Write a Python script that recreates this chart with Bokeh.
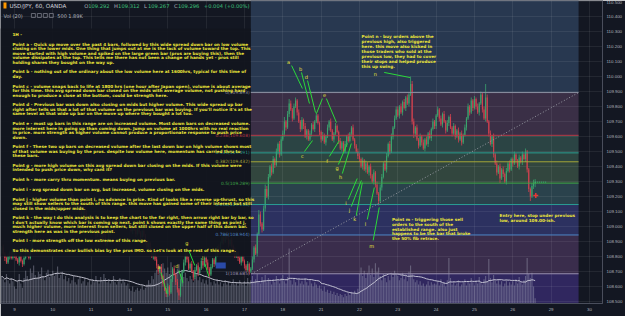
import pandas as pd
from bokeh.plotting import figure
from bokeh.models import Range1d, FixedTicker, NumeralTickFormatter, BoxAnnotation, Label
from bokeh.core.properties import value
from bokeh.embed import file_html
from bokeh.resources import INLINE

# ---------------- data ----------------
first_bar_index = -8
first_open = 108.84
closes = [
    108.86, 108.82, 108.79, 108.76, 108.80, 108.83, 108.79, 108.84,
    108.81, 108.78, 108.76, 108.80, 108.77, 108.75, 108.79, 108.84, 108.82, 108.79, 108.85, 108.90, 108.93, 108.96, 108.99, 109.03, 109.00, 109.04, 109.07, 109.05, 109.09, 109.12, 109.10, 109.14,
    109.16, 109.19, 109.15, 109.12, 109.17, 109.21, 109.24, 109.20, 109.18, 109.22, 109.26, 109.23, 109.19, 109.16, 109.13, 109.17, 109.14, 109.10, 109.08, 109.12, 109.09, 109.06, 109.03, 109.07,
    109.04, 109.00, 108.97, 108.94, 108.98, 108.95, 108.92, 108.96, 108.93, 108.88, 108.91, 108.95, 108.99, 109.02, 108.98, 109.03, 109.06, 109.02, 109.05, 109.08, 109.04, 109.01, 109.05, 109.03,
    109.00, 108.97, 109.01, 108.98, 108.95, 108.99, 108.96, 108.93, 108.97, 108.94, 108.90, 108.86, 108.89, 108.84, 108.80, 108.83, 108.78, 108.74, 108.70, 108.73, 108.67, 108.62, 108.58, 108.55,
    108.60, 108.56, 108.65, 108.72, 108.68, 108.63, 108.58, 108.54, 108.62, 108.70, 108.76, 108.82, 108.78, 108.72, 108.75, 108.70, 108.66, 108.71, 108.74, 108.69, 108.72, 108.77, 108.74, 108.79,
    108.76, 108.72, 108.68, 108.73, 108.78, 108.75, 108.81, 108.86, 108.83, 108.89, 108.93, 108.90, 108.95, 108.92, 108.88, 108.91, 108.87, 108.84, 108.80, 108.83, 108.79, 108.76, 108.80, 108.77,
    108.74, 108.71, 108.75, 108.70, 108.72, 108.78, 108.86, 108.82, 108.95, 109.08, 109.02, 108.98, 109.12, 109.25, 109.20, 109.33, 109.40, 109.36, 109.45, 109.41, 109.50, 109.55, 109.48, 109.58,
    109.62, 109.70, 109.66, 109.75, 109.82, 109.78, 109.72, 109.80, 109.84, 109.76, 109.70, 109.65, 109.71, 109.67, 109.60, 109.64, 109.58, 109.62, 109.68, 109.65, 109.70, 109.74, 109.69, 109.63,
    109.58, 109.61, 109.56, 109.60, 109.66, 109.70, 109.64, 109.58, 109.62, 109.67, 109.63, 109.57, 109.52, 109.56, 109.50, 109.55, 109.60, 109.57, 109.62, 109.66, 109.58, 109.54, 109.50, 109.47,
    109.45, 109.40, 109.44, 109.38, 109.42, 109.36, 109.40, 109.34, 109.30, 109.36, 109.28, 109.22, 109.17, 109.26, 109.33, 109.42, 109.38, 109.47, 109.55, 109.50, 109.60, 109.66, 109.72, 109.78,
    109.74, 109.80, 109.76, 109.83, 109.79, 109.86, 109.82, 109.88, 109.95, 109.70, 109.62, 109.66, 109.58, 109.54, 109.60, 109.56, 109.52, 109.58, 109.55, 109.62, 109.59, 109.65, 109.70, 109.67,
    109.74, 109.78, 109.72, 109.68, 109.75, 109.70, 109.64, 109.69, 109.73, 109.66, 109.62, 109.67, 109.60, 109.64, 109.58, 109.62, 109.56, 109.61, 109.66, 109.72, 109.80, 109.76, 109.84, 109.79,
    109.85, 109.80, 109.76, 109.82, 109.88, 109.78, 109.72, 109.86, 109.70, 109.62, 109.55, 109.60, 109.48, 109.42, 109.36, 109.40, 109.32, 109.38, 109.35, 109.30, 109.37, 109.42, 109.38, 109.45,
    109.42, 109.48, 109.44, 109.40, 109.46, 109.43, 109.48, 109.45, 109.50, 109.38, 109.25, 109.20, 109.27, 109.292, 109.296,
]
upper_wick = [  # hundredths of a yen
    1, 2, 1, 1, 2, 1, 1, 2,
    1, 2, 1, 1, 2, 1, 2, 1, 1, 2, 1, 2, 1, 1, 2, 1, 1, 2, 1, 2, 1, 1, 2, 1,
    2, 1, 1, 2, 1, 2, 1, 1, 2, 1, 2, 1, 1, 2, 1, 1, 2, 1, 2, 1, 1, 2, 1, 1,
    1, 1, 2, 1, 2, 1, 1, 2, 1, 2, 1, 1, 2, 1, 1, 2, 1, 2, 1, 1, 2, 1, 1, 2,
    1, 2, 1, 1, 2, 1, 2, 1, 1, 2, 1, 1, 2, 1, 2, 1, 1, 2, 1, 1, 2, 1, 2, 1,
    2, 1, 3, 1, 2, 1, 2, 1, 3, 1, 2, 2, 1, 2, 1, 2, 1, 2, 1, 2, 1, 2, 1, 2,
    1, 2, 1, 2, 1, 1, 2, 1, 2, 1, 2, 1, 1, 2, 1, 1, 2, 1, 2, 1, 1, 2, 1, 1,
    1, 1, 2, 1, 1, 2, 1, 2, 1, 3, 2, 1, 2, 3, 2, 2, 1, 2, 2, 1, 2, 1, 2, 2,
    2, 3, 1, 2, 3, 2, 1, 2, 2, 1, 2, 1, 2, 1, 2, 1, 1, 2, 1, 2, 1, 2, 1, 1,
    1, 2, 1, 1, 2, 1, 2, 1, 1, 2, 1, 1, 2, 1, 1, 2, 1, 2, 1, 1, 2, 1, 1, 2,
    2, 1, 2, 1, 2, 1, 1, 2, 1, 2, 1, 2, 1, 2, 2, 1, 2, 2, 1, 2, 2, 1, 2, 2,
    2, 1, 2, 1, 2, 1, 2, 1, 5, 2, 2, 1, 2, 1, 2, 1, 2, 1, 2, 1, 2, 1, 2, 1,
    1, 2, 1, 2, 1, 2, 1, 2, 1, 2, 1, 2, 1, 1, 2, 1, 2, 1, 2, 1, 2, 1, 2, 1,
    2, 1, 2, 1, 2, 1, 2, 9, 2, 1, 2, 1, 2, 1, 2, 1, 2, 1, 2, 1, 2, 1, 2, 1,
    1, 2, 1, 1, 2, 1, 2, 1, 2, 1, 1, 1, 2, 2, 2,
]
lower_wick = [
    2, 1, 2, 1, 1, 2, 1, 1,
    2, 1, 1, 2, 1, 2, 1, 1, 2, 1, 1, 2, 1, 2, 1, 1, 2, 1, 1, 2, 1, 2, 1, 1,
    1, 2, 1, 1, 2, 1, 1, 2, 1, 2, 1, 1, 2, 1, 2, 1, 1, 2, 1, 1, 2, 1, 2, 1,
    2, 1, 1, 2, 1, 2, 1, 1, 2, 1, 2, 1, 1, 2, 1, 1, 2, 1, 2, 1, 1, 2, 1, 1,
    1, 1, 2, 1, 2, 1, 1, 2, 1, 1, 2, 1, 2, 1, 1, 2, 1, 2, 2, 1, 2, 2, 1, 2,
    2, 2, 1, 2, 1, 2, 2, 3, 1, 2, 1, 2, 2, 1, 2, 1, 2, 1, 1, 2, 1, 1, 2, 1,
    2, 1, 2, 1, 1, 2, 1, 1, 2, 1, 1, 2, 1, 1, 2, 1, 1, 2, 1, 1, 2, 1, 2, 1,
    2, 1, 1, 2, 1, 1, 2, 1, 2, 1, 2, 2, 1, 2, 1, 2, 1, 2, 1, 2, 1, 2, 2, 1,
    1, 2, 2, 1, 2, 1, 2, 1, 1, 2, 1, 2, 1, 2, 1, 2, 1, 1, 2, 1, 2, 1, 1, 2,
    2, 1, 1, 2, 1, 2, 1, 1, 2, 1, 1, 2, 1, 2, 1, 1, 2, 1, 1, 2, 1, 2, 1, 2,
    2, 1, 2, 1, 2, 1, 2, 2, 1, 2, 2, 1, 3, 1, 2, 1, 1, 2, 1, 2, 1, 2, 1, 1,
    1, 2, 1, 2, 1, 2, 1, 2, 1, 2, 3, 2, 1, 2, 1, 2, 1, 2, 1, 2, 1, 2, 1, 2,
    2, 1, 2, 1, 2, 1, 2, 1, 2, 1, 2, 1, 2, 1, 2, 1, 2, 1, 1, 2, 1, 2, 1, 2,
    1, 2, 1, 2, 1, 2, 1, 2, 1, 2, 1, 2, 2, 1, 2, 1, 3, 1, 2, 1, 2, 1, 2, 1,
    2, 1, 2, 1, 2, 1, 2, 1, 2, 2, 2, 3, 1, 2, 3,
]
volume_k = [
    2.6, 2.3, 2.0, 2.8, 2.2, 1.9, 2.4, 2.1,
    1.6, 1.4, 2.1, 2.8, 1.9, 1.5, 2.4, 3.1, 2.6, 2.2, 3.3, 2.9, 3.6, 2.7, 2.4, 3.0, 2.8, 3.4, 2.6, 2.2, 2.9, 3.2, 2.5, 2.8,
    3.1, 2.6, 2.9, 3.5, 2.4, 2.7, 3.0, 2.3, 2.6, 2.1, 2.4, 1.9, 2.2, 2.6, 2.0, 1.8, 2.3, 2.5, 1.9, 2.1, 2.4, 1.7, 2.0, 2.2,
    1.8, 2.3, 2.0, 2.6, 2.2, 1.9, 2.5, 2.1, 2.8, 2.4, 2.0, 2.3, 1.9, 2.2, 2.6, 2.0, 1.8, 2.1, 2.4, 1.9, 2.2, 2.0, 1.7, 1.9,
    1.4, 1.2, 1.6, 1.1, 1.3, 1.5, 1.2, 1.4, 1.7, 1.3, 1.5, 1.8, 2.2, 1.9, 2.6, 2.3, 2.9, 3.2, 2.7, 3.5, 3.0, 3.8, 3.3, 2.9,
    3.4, 2.8, 3.9, 3.1, 2.6, 2.9, 3.3, 3.7, 2.8, 3.2, 2.5, 2.9, 2.4, 2.1, 2.6, 2.3, 2.0, 2.4, 2.8, 2.2, 2.5, 2.0, 2.3, 1.9,
    2.2, 1.8, 2.4, 2.0, 1.7, 2.1, 1.9, 2.3, 1.8, 2.0, 1.6, 1.9, 2.2, 1.8, 2.1, 1.7, 1.9, 2.3, 1.8, 2.0, 1.7, 2.2, 1.9, 1.8,
    2.1, 1.7, 2.4, 1.9, 2.2, 2.6, 2.0, 2.3, 2.8, 2.1, 1.9, 2.5, 2.2, 2.7, 2.0, 2.4, 2.1, 1.8, 2.3, 2.0, 2.6, 2.2, 1.9, 2.4,
    2.7, 2.1, 1.9, 2.5, 5.2, 2.2, 1.8, 2.4, 2.0, 1.7, 2.3, 1.9, 2.1, 1.8, 2.4, 2.0, 1.7, 2.2, 1.9, 1.6, 2.0, 1.8, 1.5, 1.7,
    1.4, 1.2, 1.6, 1.1, 1.3, 1.0, 1.2, 0.9, 1.1, 0.8, 1.0, 0.7, 0.9, 0.8, 0.6, 0.9, 0.7, 1.0, 0.8, 1.1, 0.9, 1.2, 1.0, 1.4,
    2.8, 3.4, 2.6, 3.1, 2.4, 2.9, 3.6, 2.7, 3.3, 2.5, 3.8, 3.0, 3.4, 2.6, 2.2, 2.8, 2.4, 2.0, 2.6, 2.2, 2.9, 2.5, 3.1, 2.7,
    2.6, 2.2, 2.4, 2.9, 2.3, 2.6, 2.1, 3.0, 3.6, 2.8, 2.3, 2.0, 2.2, 1.8, 2.1, 1.7, 1.9, 1.6, 1.8, 2.1, 1.7, 2.0, 1.8, 1.9,
    1.8, 2.1, 1.7, 2.3, 1.9, 2.0, 1.6, 2.2, 4.3, 2.4, 1.8, 2.1, 1.7, 1.9, 2.2, 1.6, 1.8, 2.0, 2.3, 1.7, 2.1, 1.9, 2.4, 2.0,
    1.7, 2.2, 1.9, 2.5, 2.0, 1.8, 2.3, 2.6, 2.1, 4.2, 2.4, 2.0, 2.7, 2.2, 1.9, 2.3, 1.8, 2.1, 1.6, 1.9, 2.2, 1.7, 2.0, 1.8,
    2.1, 1.7, 2.3, 1.9, 2.5, 2.0, 1.8, 2.2, 2.6, 4.3, 2.8, 2.4, 2.9, 1.6, 0.5,
]
assert len(closes) == len(upper_wick) == len(lower_wick) == len(volume_k), (len(closes), len(upper_wick), len(lower_wick), len(volume_k))

day_tick_bars = [0, 24, 48, 72, 96, 120, 144, 168, 192, 216, 240, 264, 288, 312, 336, 360]
day_labels = ["9", "10", "11", "14", "15", "16", "17", "18", "21", "22", "23", "24", "25", "26", "29", "30"]
price_ticks = [108.5, 108.6, 108.7, 108.8, 108.9, 109.0, 109.1, 109.2, 109.3, 109.4, 109.5,
               109.6, 109.7, 109.8, 109.9, 110.0, 110.1, 110.2, 110.3, 110.4, 110.5]

header_symbol = "USD/JPY, 60, OANDA"
last_o, last_h, last_l, last_c = "109.292", "109.312", "109.267", "109.296"
last_change = "+0.004 (+0.00%)"
vol_len, vol_last, vol_ma = "Vol (20)", "500", "1.89K"

fib_low, fib_high = 108.685, 109.893
fib_levels = [0, 0.236, 0.333, 0.382, 0.5, 0.618, 0.786, 1]
fib_line_colors = ["#8a8fa0", "#b83a48", "#2a9d8f", "#a6a83a", "#3fa84a", "#2a9d95", "#4f86c6", "#9a90b0"]
band_colors = ["#283850", "#3a2f46", "#2b4444", "#2d4541", "#32463e", "#2a424c", "#2c3160", "#3a2d4c", "#30275f"]
fib_start_bar, fib_end_bar = 148.0, 353.2

mark_letters = ["a", "b", "d", "e", "c", "f", "g", "h", "i", "j", "k", "l", "m", "n", "a", "d", "g", "l"]
mark_bar = [171.6, 179.1, 182.8, 194.1, 180.2, 195.8, 202.0, 204.2, 207.6, 209.7, 213.0, 219.7, 223.6, 225.9, 90.5, 101.7, 108.0, 117.9]
mark_price = [110.10, 110.053, 110.0, 109.88, 109.469, 109.435, 109.389, 109.329, 109.158, 109.111, 109.047, 109.018, 108.873, 110.02, 108.727, 108.74, 108.887, 108.787]
arrow_bar0 = [173.5, 179.7, 183.5, 192.8, 195.3, 181.6, 197.2, 202.8, 205.3, 209.0, 210.9, 214.0, 220.9, 224.6, 231.5, 91.7, 103.0, 109.2, 119.2]
arrow_price0 = [110.073, 110.027, 109.973, 109.853, 109.853, 109.50, 109.467, 109.413, 109.353, 109.18, 109.133, 109.073, 109.047, 108.907, 110.027, 108.693, 108.707, 108.84, 108.753]
arrow_bar1 = [180.3, 184.7, 188.5, 189.1, 201.6, 186.6, 203.4, 208.4, 210.9, 214.6, 217.2, 217.8, 225.3, 228.4, 247.7, 95.5, 105.5, 112.9, 121.7]
arrow_price1 = [109.92, 109.82, 109.76, 109.753, 109.693, 109.573, 109.573, 109.553, 109.553, 109.32, 109.307, 109.293, 109.26, 109.127, 109.993, 108.553, 108.627, 108.74, 108.667]

note_paragraphs = [
    ["1H -"],
    ["Point a - Quick up move over the past 4 bars, followed by this wide spread down bar on low volume",
     "closing on the lower mids. One thing that jumps out at me is the lack of volume toward the top. This",
     "move started with high volume and spiked on the large green bar (pros are buying this), then the",
     "volume dissipates at the top. This tells me there has not been a change of hands yet - pros still",
     "holding shares they bought on the way up."],
    ["Point b - nothing out of the ordinary about the low volume here at 1600hrs, typical for this time of",
     "day."],
    ["Point c - volume snaps back to life at 1800 hrs (one hour after Japan open), volume is about average",
     "for this time. this avg spread down bar closed on the mids with average volume, not pushing hard",
     "enough to produce a close at the bottom, could be strength here."],
    ["Point d - Previous bar was down also closing on mids but higher volume. This wide spread up bar",
     "right after tells us that a lot of that volume on the previous bar was buying. If you'll notice it's at the",
     "same level as that wide up bar on the move up where they bought a lot too."],
    ["Point e - most up bars in this range are on increased volume. Most down bars on decreased volume.",
     "more interest here in going up than coming down. Jump on volume at 1000hrs with no real reaction",
     "in price. more strength as higher volume cannot produce a proportionate response to push price",
     "down."],
    ["Point f - These two up bars on decreased volume after the last down bar on high volume shows most",
     "of that volume was buying by the pros. despite low volume here, momentum has carried thru to",
     "these bars."],
    ["Point g - more high volume on this avg spread down bar closing on the mids. If this volume were",
     "intended to push price down, why cant it?"],
    ["Point h - more carry thru momentum. means buying on previous bar."],
    ["Point i - avg spread down bar on avg, but increased, volume closing on the mids."],
    ["Point j - higher volume than point i, no advance in price. Kind of looks like a reverse up-thrust, so this",
     "may still show sellers to the south of this range. this move has gained some of their interest but still",
     "closed in the mids/upper mids."],
    ["Point k - the way I do this analysis is to keep the chart to the far right, then arrow right bar by bar, so",
     "I don't actually know which bar is coming up next. point k shows exactly the same thing as point j,",
     "much higher volume, more interest from sellers, but still closed on the upper half of this down bar.",
     "strength here as was in the previous point."],
    ["Point l - more strength off the low extreme of this range."],
    ["So this demonstrates clear bullish bias by the pros IMO. so Let's look at the rest of this range."],
]
note_n = ["Point n - buy orders above the", "previous high, also triggered", "here. this move also kicked in",
          "those traders who sold at the", "previous low, they had to cover", "their stops and helped produce",
          "this up swing."]
note_m = ["Point m - triggering those sell", "orders to the south of the", "established range. also just",
          "happens to be the bar that broke", "the 50% fib retrace."]
note_entry = ["Entry here, stop under previous", "low, around 109.00-ish."]
countdown = "34:58"
crosshair_bar, crosshair_price = 326.4, 109.207

# ---------------- layout helpers (pixel -> data) ----------------
FW, FH = 604, 303
def X(px):
    return (px - 14) / 1.6025
def Y(py):
    return 110.5 - (py - 1) / 150.0

BG = "#131722"
YELLOW = "#ece63a"
GREEN_MARK = "#2bd93a"

p = figure(width=625, height=316, output_backend="svg", toolbar_location=None,
           x_range=Range1d(X(0), X(FW)), y_range=Range1d(Y(FH), Y(0)),
           y_axis_location="right",
           min_border_left=0, min_border_top=0, min_border_right=21, min_border_bottom=13,
           background_fill_color=BG, border_fill_color=BG, outline_line_color=None)
p.extra_y_ranges = {"vol": Range1d(0, FH / 10.58)}

# axes
for ax in (p.xaxis[0], p.yaxis[0]):
    ax.major_tick_line_color = None
    ax.minor_tick_line_color = None
    ax.major_tick_out = 0
    ax.major_tick_in = 0
    ax.axis_line_color = "#4a4e5c"
    ax.major_label_text_color = "#b2b5be"
    ax.major_label_text_font = "Liberation Sans"
    ax.major_label_text_font_size = "4.4px"
    ax.major_label_standoff = 4
p.yaxis.ticker = FixedTicker(ticks=price_ticks)
p.yaxis.formatter = NumeralTickFormatter(format="0.000")
p.xaxis.ticker = FixedTicker(ticks=day_tick_bars)
p.xaxis.major_label_overrides = {t: lab for t, lab in zip(day_tick_bars, day_labels)}

p.xgrid.ticker = FixedTicker(ticks=day_tick_bars)
p.ygrid.ticker = FixedTicker(ticks=price_ticks)
for g in (p.xgrid[0], p.ygrid[0]):
    g.grid_line_color = "#ffffff"
    g.grid_line_alpha = 0.07

# fib bands (underlay, beneath grid)
fib_prices = [fib_high - lv * (fib_high - fib_low) for lv in fib_levels]
bounds = [Y(0)] + fib_prices + [Y(FH)]
bands = []
for k, col in enumerate(band_colors):
    bands.append(BoxAnnotation(left=fib_start_bar, right=fib_end_bar, top=bounds[k], bottom=bounds[k + 1],
                               fill_color=col, fill_alpha=1.0, line_alpha=0, level="underlay"))
p.center = bands + list(p.center)

# candles
n = len(closes)
idx = list(range(first_bar_index, first_bar_index + n))
opens = [first_open] + closes[:-1]
highs = [max(o, c) + u / 100 for o, c, u in zip(opens, closes, upper_wick)]
lows = [min(o, c) - l / 100 for o, c, l in zip(opens, closes, lower_wick)]
up = [c >= o for o, c in zip(opens, closes)]
colors = ["#3aa36d" if u else "#d0424f" for u in up]
tops = [max(o, c) for o, c in zip(opens, closes)]
bots = [min(o, c) - (0.006 if abs(o - c) < 0.006 else 0) for o, c in zip(opens, closes)]
df = pd.DataFrame(dict(i=idx, top=tops, bottom=bots, high=highs, low=lows, color=colors, vol=volume_k))
df["vol_ma"] = df["vol"].rolling(20, min_periods=1).mean()

p.vbar(x="i", width=0.72, top="vol", bottom=0, source=df, y_range_name="vol",
       fill_color="#a4a6ba", fill_alpha=0.42, line_color=None)
p.line(x="i", y="vol_ma", source=df, y_range_name="vol", line_color="#d2d2de", line_width=1, line_alpha=0.9)
p.segment(x0="i", y0="low", x1="i", y1="high", source=df, line_color="color", line_width=0.8)
p.vbar(x="i", width=0.7, top="top", bottom="bottom", source=df, fill_color="color", line_color=None)

# note box
p.add_layout(BoxAnnotation(left=X(0), right=X(251), top=Y(28), bottom=Y(256),
                           fill_color="#12151e", fill_alpha=0.94, line_alpha=0, level="annotation"))

def txt(xs, ys, texts, color, size="4.2px", align="left", font="DejaVu Sans", baseline="middle", style="bold"):
    r = p.text(x=xs, y=ys, text=texts, text_color=color, text_font=value(font), text_font_size=size,
               text_align=align, text_baseline=baseline, text_font_style=style)
    r.level = "overlay"
    return r

# fib lines, labels and trend line
r = p.segment(x0=[fib_start_bar] * len(fib_prices), x1=[fib_end_bar] * len(fib_prices), y0=fib_prices, y1=fib_prices,
              line_color=fib_line_colors, line_width=1)
r.level = "overlay"
fib_texts = [f"{lv:g}({pr:.3f})" for lv, pr in zip(fib_levels, fib_prices)]
r = p.text(x=[X(250)] * len(fib_prices), y=fib_prices, text=fib_texts, text_color=fib_line_colors,
           text_font=value("DejaVu Sans"), text_font_size="4.4px", text_align="right", text_baseline="middle")
r.level = "overlay"
r = p.line(x=[fib_start_bar + 0.5, fib_end_bar], y=[fib_low, fib_high], line_color="#9598a1",
           line_dash="1 2", line_width=1)
r.level = "overlay"

# note text in box
xs, ys, ts = [], [], []
yp = 34.0
for para in note_paragraphs:
    for line in para:
        xs.append(X(12)); ys.append(Y(yp)); ts.append(line)
        yp += 4.5
    yp += 5.2
txt(xs, ys, ts, YELLOW)

# right-hand notes
txt([X(362.3)] * len(note_n), [Y(36 + 5.0 * k) for k in range(len(note_n))], note_n, YELLOW)
txt([X(392.7)] * len(note_m), [Y(219 + 4.8 * k) for k in range(len(note_m))], note_m, YELLOW)
txt([X(500.7)] * len(note_entry), [Y(215 + 5.0 * k) for k in range(len(note_entry))], note_entry, YELLOW)

# point marks
r = p.segment(x0=arrow_bar0, y0=arrow_price0, x1=arrow_bar1, y1=arrow_price1, line_color=GREEN_MARK, line_width=1)
r.level = "overlay"
txt(mark_bar, mark_price, mark_letters, YELLOW, size="5px", align="center", style="normal")

# small marker & current price details
r = p.quad(left=[126.0], right=[132.3], bottom=[108.72], top=[108.76], fill_color="#2a4aa8", line_color=None)
r.level = "overlay"
r = p.line(x=[idx[-1], idx[-1] + 7], y=[float(last_c)] * 2, line_color="#2fbf71", line_dash="1 1", line_width=1)
r.level = "overlay"
r = p.scatter(x=[crosshair_bar], y=[crosshair_price], marker="cross", size=5, line_color="#e53935", line_width=1.5)
r.level = "overlay"

# header
r = p.rect(x=[X(4.5)], y=[Y(5)], width=3, height=6, width_units="screen", height_units="screen",
           fill_color="#ff9800", line_color=None)
r.level = "overlay"
txt([X(9)], [Y(5.5)], [header_symbol], "#d1d4dc", size="5.6px", style="normal")
hx = 84.0
for lab, val in (("O", last_o), ("H", last_h), ("L", last_l), ("C", last_c)):
    txt([X(hx)], [Y(5.5)], [lab], "#b2b5be", size="5.2px", style="normal")
    txt([X(hx + 4.0)], [Y(5.5)], [val], "#3cc07a", size="5.2px", style="normal")
    hx += 30.0
txt([X(hx)], [Y(5.5)], [last_change], "#3cc07a", size="5.2px", style="normal")
txt([X(3)], [Y(15)], [vol_len], "#b2b5be", size="5px", style="normal")
r = p.rect(x=[X(33), X(39), X(45), X(51)], y=[Y(15)] * 4, width=4, height=4, width_units="screen",
           height_units="screen", fill_alpha=0, line_color="#787b86", line_width=0.8)
r.level = "overlay"
txt([X(57)], [Y(15)], [vol_last], "#b2b5be", size="5px", style="normal")
txt([X(68)], [Y(15)], [vol_ma], "#b2b5be", size="5px", style="normal")

# price tag on axis
p.add_layout(Label(x=X(605), y=float(last_c), text=last_c, text_font_size="4.4px", text_color="#ffffff",
                   text_font="Liberation Sans", text_baseline="middle", background_fill_color="#c62828"))
p.add_layout(Label(x=X(607), y=Y(187.5), text=countdown, text_font_size="4.2px", text_color="#ffffff",
                   text_font="Liberation Sans", text_baseline="middle", background_fill_color="#7c1d22"))

open("out.html", "w").write(file_html(p, INLINE))
